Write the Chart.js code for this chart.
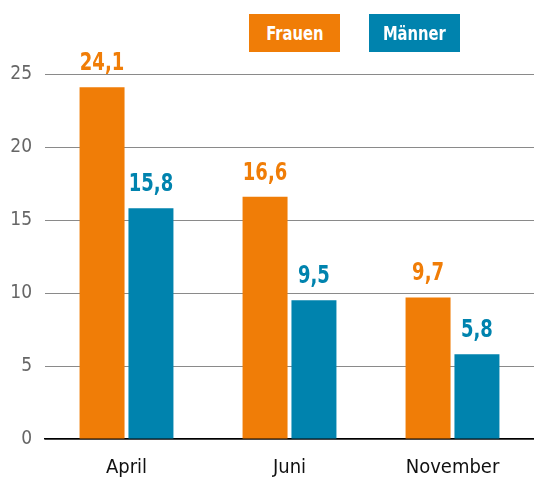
<!DOCTYPE html>
<html>
<head>
<meta charset="utf-8">
<style>
  html, body { margin: 0; padding: 0; background: #fff; }
  #wrap { position: relative; width: 534px; height: 477px; }
  .leg { position: absolute; top: 14px; height: 38px; width: 91px; color: #fff;
         font: bold 20px 'Liberation Sans Narrow', 'DejaVu Sans Condensed', sans-serif;
         line-height: 38px; text-align: center; }
  .leg span { display: inline-block; transform: scaleX(0.82); }
</style>
</head>
<body>
<div id="wrap">
  <canvas id="myChart" width="534" height="477"></canvas>
  <div class="leg" style="left:249px;background:#f07d07;"><span>Frauen</span></div>
  <div class="leg" style="left:369px;background:#0083ae;"><span>Männer</span></div>
</div>
<script src="https://cdn.jsdelivr.net/npm/chart.js@4.4.2/dist/chart.umd.min.js"></script>
<script>
  const months = ['April', 'Juni', 'November'];
  const frauen = [24.1, 16.6, 9.7];
  const maenner = [15.8, 9.5, 5.8];
  const yTicks = [0, 5, 10, 15, 20, 25];

  const fontFam = "'Liberation Sans Narrow', 'DejaVu Sans Condensed', sans-serif";

  // value labels above each bar, German decimal comma, squeezed a bit
  const barLabels = {
    id: 'barLabels',
    afterDatasetsDraw(chart) {
      const c = chart.ctx;
      chart.data.datasets.forEach((ds, i) => {
        chart.getDatasetMeta(i).data.forEach((bar, j) => {
          c.save();
          c.translate(bar.x, bar.y - 17);
          c.scale(0.8, 1);
          c.font = 'bold 25px ' + fontFam;
          c.textAlign = 'center';
          c.textBaseline = 'alphabetic';
          c.fillStyle = ds.backgroundColor;
          c.fillText(ds.data[j].toFixed(1).replace('.', ','), 0, 0);
          c.restore();
        });
      });
    }
  };

  new Chart(document.getElementById('myChart'), {
    type: 'bar',
    data: {
      labels: months,
      datasets: [
        { label: 'Frauen', data: frauen, backgroundColor: '#f07d07' },
        { label: 'Männer', data: maenner, backgroundColor: '#0083ae' }
      ]
    },
    options: {
      responsive: false,
      animation: false,
      layout: { padding: { top: 74, right: 0, left: 0, bottom: 0 } },
      datasets: { bar: { categoryPercentage: 0.6, barPercentage: 0.92 } },
      plugins: { legend: { display: false }, tooltip: { enabled: false } },
      scales: {
        x: {
          grid: { display: false },
          border: { color: '#000', width: 1.5 },
          ticks: { color: '#111', font: { family: fontFam, size: 20 }, padding: 9 },
          afterFit: s => { s.height = 38; }
        },
        y: {
          min: 0, max: 25,
          afterBuildTicks: s => { s.ticks = yTicks.map(v => ({ value: v })); },
          grid: { color: '#8a8a8a', drawTicks: false },
          border: { display: false },
          ticks: { color: '#666', font: { family: fontFam, size: 19 }, padding: 13 },
          afterFit: s => { s.width = 45; }
        }
      }
    },
    plugins: [barLabels]
  });
</script>
</body>
</html>
